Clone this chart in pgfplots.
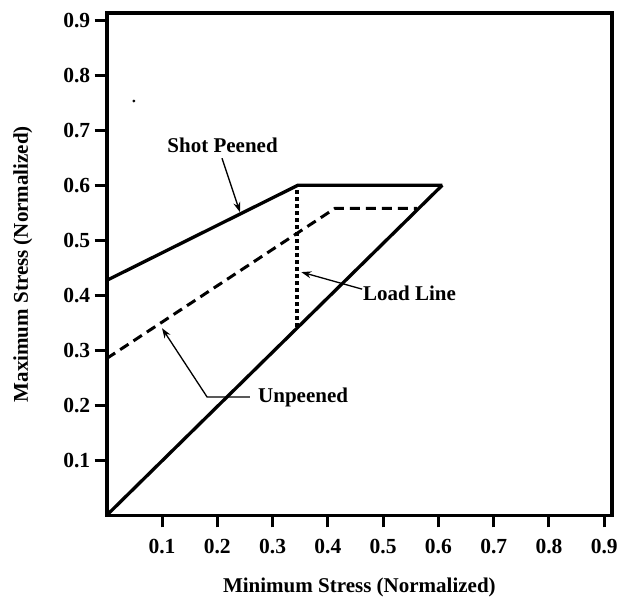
\documentclass[border=0pt]{standalone}
\usepackage{pgfplots}
\pgfplotsset{compat=1.18}
\usepackage{fontspec}
\setmainfont{Liberation Serif}
\usetikzlibrary{arrows.meta}
\begin{document}
\begin{tikzpicture}
\begin{axis}[
  scale only axis,
  width=505bp, height=502bp,
  xmin=0, xmax=0.914, ymin=0, ymax=0.913,
  xtick={0.1,0.2,0.3,0.4,0.5,0.6,0.7,0.8,0.9},
  ytick={0.1,0.2,0.3,0.4,0.5,0.6,0.7,0.8,0.9},
  xticklabels={0.1,0.2,0.3,0.4,0.5,0.6,0.7,0.8,0.9},
  yticklabels={0.1,0.2,0.3,0.4,0.5,0.6,0.7,0.8,0.9},
  tick pos=left,
  tick align=outside,
  major tick length=12bp,
  axis line style={line width=3.5bp},
  every tick/.style={line width=3bp, black},
  tick label style={font=\fontsize{21.5bp}{24bp}\selectfont\bfseries},
  xticklabel style={yshift=-8bp},
  yticklabel style={xshift=-1bp},
  xlabel={Minimum Stress (Normalized)},
  ylabel={Maximum Stress (Normalized)},
  label style={font=\fontsize{21bp}{24bp}\selectfont\bfseries},
  xlabel style={at={(axis description cs:0.5,0)}, anchor=center, yshift=-72bp},
  ylabel style={at={(axis description cs:0,0.5)}, anchor=center, yshift=84bp},
  clip=false,
]
% diagonal
\addplot[line width=3.3bp, black] coordinates {(0,0) (0.607,0.6)};
% shot peened
\addplot[line width=3.3bp, black] coordinates {(0,0.427) (0.346,0.6) (0.607,0.6)};
% unpeened
\addplot[line width=3bp, black, dash pattern=on 10bp off 6bp] coordinates {(0,0.285) (0.413,0.558) (0.561,0.558)};
% load line
\addplot[line width=4bp, black, dash pattern=on 4bp off 3bp] coordinates {(0.345,0.342) (0.345,0.6)};
% stray dot
\addplot[only marks, mark=*, mark size=1.2bp, black] coordinates {(0.049,0.753)};
% annotations
\node[font=\fontsize{21bp}{24bp}\selectfont\bfseries, inner sep=0pt] at (axis cs:0.2095,0.673) {Shot Peened};
\draw[line width=1.3bp, -{Stealth[length=10bp,width=7bp]}] (axis cs:0.2085,0.649) -- (axis cs:0.241,0.551);
\node[font=\fontsize{21bp}{24bp}\selectfont\bfseries, anchor=west, inner sep=0pt] at (axis cs:0.4635,0.4036) {Load Line};
\draw[line width=1.3bp, -{Stealth[length=10bp,width=7bp]}] (axis cs:0.462,0.411) -- (axis cs:0.352,0.442);
\node[font=\fontsize{21bp}{24bp}\selectfont\bfseries, anchor=west, inner sep=0pt] at (axis cs:0.2736,0.2145) {Unpeened};
\draw[line width=1.3bp, -{Stealth[length=10bp,width=7bp]}] (axis cs:0.259,0.215) -- (axis cs:0.1815,0.215) -- (axis cs:0.1,0.34);
\end{axis}
\path (current axis.south west) ++(-106.7bp,-81bp) coordinate (A);
\path (current axis.north east) ++(7bp,13bp) coordinate (B);
\pgfresetboundingbox
\path[use as bounding box] (A) rectangle (B);
\end{tikzpicture}
\end{document}
